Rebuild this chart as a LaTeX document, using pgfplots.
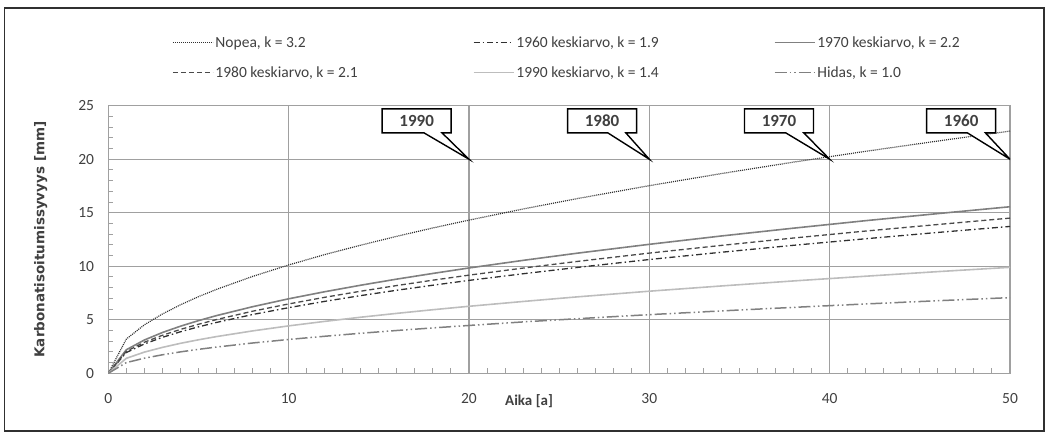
\documentclass[border=0pt]{standalone}
\usepackage{pgfplots}
\pgfplotsset{compat=1.18}
\usepackage{fontspec}
\setmainfont{Carlito}
\newfontfamily\dejavu{DejaVu Sans}
\usetikzlibrary{shapes.callouts}
\definecolor{gridgray}{HTML}{A0A0A0}
\definecolor{txt}{HTML}{404040}
\definecolor{cdark}{HTML}{303030}
\definecolor{cmid}{HTML}{808080}
\definecolor{clight}{HTML}{BDBDBD}
\definecolor{cdash}{HTML}{4A4A4A}

\pgfplotstableread{
t    nopea  k1960  k1970  k1980  k1990  hidas
0    0      0      0      0      0      0
1    3.20   1.94   2.20   2.05   1.40   1.00
2    4.53   2.74   3.11   2.90   1.98   1.41
3    5.54   3.36   3.81   3.55   2.42   1.73
4    6.40   3.88   4.40   4.10   2.80   2.00
5    7.16   4.34   4.92   4.58   3.13   2.24
6    7.84   4.75   5.39   5.02   3.43   2.45
8    9.05   5.49   6.22   5.80   3.96   2.83
10   10.12  6.13   6.96   6.48   4.43   3.16
12   11.09  6.72   7.62   7.10   4.85   3.46
14   11.97  7.26   8.23   7.67   5.24   3.74
16   12.80  7.76   8.80   8.20   5.60   4.00
18   13.58  8.23   9.33   8.70   5.94   4.24
20   14.31  8.68   9.84   9.17   6.26   4.47
23   15.35  9.30   10.55  9.83   6.71   4.80
26   16.32  9.89   11.22  10.45  7.14   5.10
30   17.53  10.63  12.05  11.23  7.67   5.48
34   18.66  11.31  12.83  11.95  8.16   5.83
38   19.73  11.96  13.56  12.64  8.63   6.16
42   20.74  12.57  14.26  13.29  9.07   6.48
46   21.70  13.16  14.92  13.90  9.50   6.78
50   22.63  13.72  15.56  14.50  9.90   7.07
}\data

\begin{document}
\begin{tikzpicture}
\useasboundingbox (0,0) rectangle (1048bp,434bp);
\draw[cdark, line width=1.3bp] (4.5bp,3bp) rectangle (1044bp,426bp);
\begin{axis}[
  at={(108.3bp,60.7bp)}, anchor=south west,
  scale only axis, width=901.7bp, height=267.6bp,
  xmin=0, xmax=50, ymin=0, ymax=25,
  xtick={0,10,...,50}, ytick={0,5,...,25},
  minor x tick num=9, minor y tick num=4,
  grid=major,
  major grid style={gridgray, line width=1.4bp},
  axis line style={gridgray, line width=1.4bp},
  tick style={gridgray, line width=1bp},
  tick align=inside, tick pos=left,
  major tick length=0pt, minor tick length=5bp,
  /pgf/number format/assume math mode=true,
  tick label style={font=\fontsize{15.5bp}{18bp}\selectfont, text=txt},
  xticklabel style={anchor=north, inner sep=0pt, yshift=-19.5bp},
  yticklabel style={anchor=east, inner sep=0pt, xshift=-14bp},
  xlabel={Aika [a]},
  xlabel style={at={(axis description cs:0.4666,-0.105)}, anchor=center, font=\bfseries\fontsize{15bp}{17bp}\selectfont, text=txt},
  ylabel={Karbonatisoitumissyvyys [mm]},
  ylabel style={at={(axis description cs:-0.075,0.5)}, anchor=center, font=\dejavu\bfseries\fontsize{13.5bp}{16bp}\selectfont, text=txt},
  legend columns=3,
  legend image code/.code={\draw[#1] (0bp,0bp) -- (40bp,0bp);},
  legend style={at={(axis description cs:0.0706,1.18)}, anchor=west,
    draw=none, fill=none, inner sep=0pt,
    font=\fontsize{15.5bp}{18bp}\selectfont, text=txt,
    nodes={inner sep=2bp},
    row sep=14bp,
    /tikz/every even column/.append style={column sep=113bp}},
  legend cell align=left,
]
\addplot[cdark, line width=1.2bp, dash pattern=on 1bp off 1bp] table[x=t,y=nopea] {\data};
\addlegendentry{Nopea, k = 3.2}
\addplot[cdark, line width=1.3bp, dash pattern=on 6bp off 3bp on 1.5bp off 3bp] table[x=t,y=k1960] {\data};
\addlegendentry{1960 keskiarvo, k = 1.9}
\addplot[cmid, line width=1.6bp] table[x=t,y=k1970] {\data};
\addlegendentry{1970 keskiarvo, k = 2.2}
\addplot[cdash, line width=1.3bp, dash pattern=on 5bp off 3bp] table[x=t,y=k1980] {\data};
\addlegendentry{1980 keskiarvo, k = 2.1}
\addplot[clight, line width=1.6bp] table[x=t,y=k1990] {\data};
\addlegendentry{1990 keskiarvo, k = 1.4}
\addplot[cmid, line width=1.5bp, dash pattern=on 12bp off 3bp on 1.5bp off 3bp on 1.5bp off 3bp] table[x=t,y=hidas] {\data};
\addlegendentry{Hidas, k = 1.0}

\tikzset{yearbox/.style={rectangle callout, draw=black, fill=white, line width=1.4bp,
  minimum width=69bp, minimum height=24bp, inner sep=0pt, callout pointer width=18bp,
  font=\bfseries\fontsize{17bp}{20bp}\selectfont, text=txt}}
\node[yearbox, callout absolute pointer={(axis cs:20,20)}] at (axis cs:17.1,23.58) {1990};
\node[yearbox, callout absolute pointer={(axis cs:30,20)}] at (axis cs:27.38,23.58) {1980};
\node[yearbox, callout absolute pointer={(axis cs:40,20)}] at (axis cs:37.19,23.58) {1970};
\node[yearbox, callout absolute pointer={(axis cs:50,20)}] at (axis cs:47.29,23.58) {1960};
\end{axis}
\end{tikzpicture}
\end{document}
